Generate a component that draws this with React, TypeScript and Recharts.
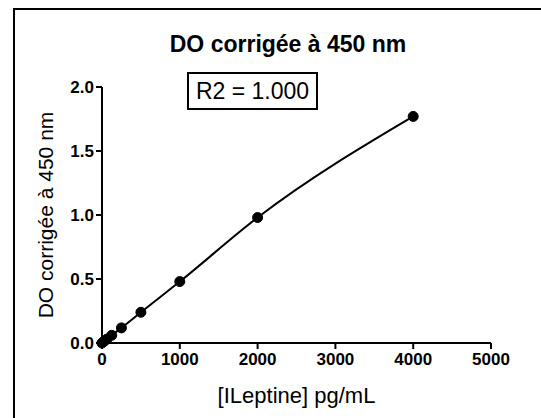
import React from 'react';
import { ComposedChart, Line, XAxis, YAxis, Label } from 'recharts';

// standard curve: leptin concentration (pg/mL) vs corrected OD at 450 nm
const concentrations = [0, 15.6, 31.25, 62.5, 125, 250, 500, 1000, 2000, 4000];
const odValues = [0.0, 0.008, 0.016, 0.03, 0.06, 0.118, 0.24, 0.48, 0.98, 1.77];
const xTicks = [0, 1000, 2000, 3000, 4000, 5000];
const yTicks = [0, 0.5, 1.0, 1.5, 2.0];

const data = concentrations.map((c, i) => ({ conc: c, od: odValues[i] }));

const FONT = '"Liberation Sans", Arial, sans-serif';
const tickStyle = { fill: '#000', fontSize: 17, fontWeight: 700, fontFamily: FONT };

export default function App() {
  return (
    <div style={{ position: 'fixed', left: 0, top: 0, width: 541, height: 418, overflow: 'hidden', background: '#fff', fontFamily: FONT }}>
      {/* outer frame, cut off at the right and bottom */}
      <div style={{ position: 'absolute', left: 13, top: 8, width: 560, height: 440, border: '2px solid #000' }} />

      <div style={{ position: 'absolute', left: 0, top: 31, width: 576, textAlign: 'center', fontSize: 23, fontWeight: 700, color: '#000' }}>
        DO corrigée à 450 nm
      </div>

      <div style={{ position: 'absolute', left: 187, top: 72, width: 127, height: 34, border: '2px solid #000', fontSize: 23, lineHeight: '34px', textAlign: 'center', color: '#000' }}>
        R2 = 1.000
      </div>

      <div style={{ position: 'absolute', left: 0, top: 0 }}>
        <ComposedChart width={541} height={418} data={data} margin={{ top: 87, right: 50, bottom: 45, left: 40 }}>
          <XAxis
            type="number"
            dataKey="conc"
            domain={[0, 5000]}
            ticks={xTicks}
            interval={0}
            axisLine={{ stroke: '#000', strokeWidth: 2 }}
            tickLine={{ stroke: '#000', strokeWidth: 2 }}
            tickSize={6}
            tick={{ ...tickStyle, dy: 2 }}
            height={30}
          >
            <Label value="[ILeptine] pg/mL" position="bottom" offset={14} fill="#000" fontSize={22} fontFamily={FONT} />
          </XAxis>
          <YAxis
            type="number"
            domain={[0, 2]}
            ticks={yTicks}
            interval={0}
            tickFormatter={(v: number) => v.toFixed(1)}
            axisLine={{ stroke: '#000', strokeWidth: 2 }}
            tickLine={{ stroke: '#000', strokeWidth: 2 }}
            tickSize={6}
            tick={tickStyle}
            width={62}
          >
            <Label value="DO corrigée à 450 nm" angle={-90} position="insideLeft" offset={6} fill="#000" fontSize={21} fontFamily={FONT} style={{ textAnchor: 'middle' }} />
          </YAxis>
          <Line
            type="monotone"
            dataKey="od"
            stroke="#000"
            strokeWidth={2}
            dot={{ r: 5, fill: '#000', stroke: '#000', strokeWidth: 1 }}
            isAnimationActive={false}
          />
        </ComposedChart>
      </div>
    </div>
  );
}
